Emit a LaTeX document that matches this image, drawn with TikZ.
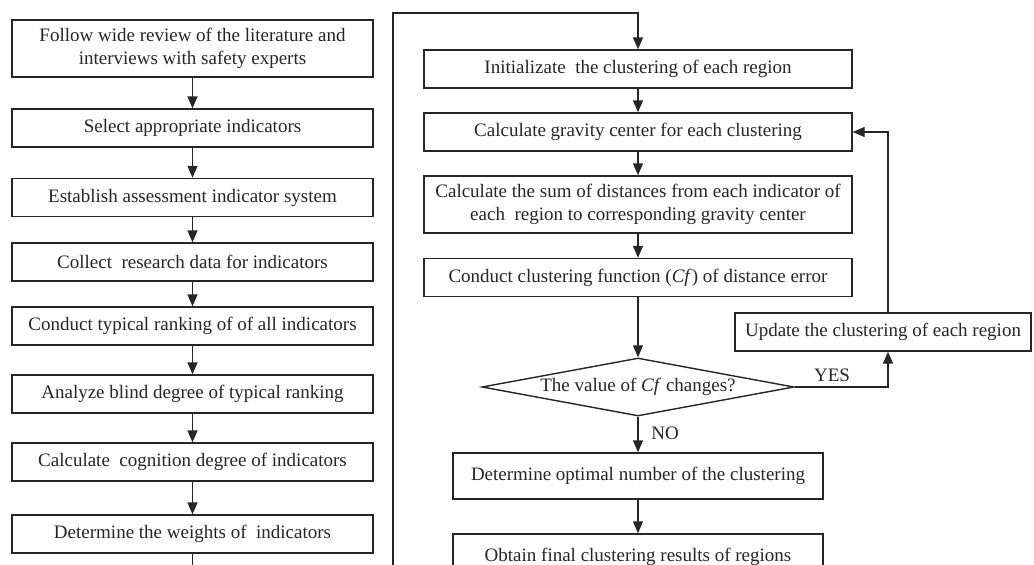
\documentclass[tikz,border=0pt]{standalone}
\usepackage{fontspec}
\setmainfont{Liberation Serif}
\usetikzlibrary{arrows.meta,shapes.geometric}
\definecolor{ink}{HTML}{262626}
\begin{document}
\begin{tikzpicture}[x=1pt,y=-1pt,
 box/.style={draw=ink,line width=1.4pt,rectangle,inner sep=0pt,align=center,text=ink,font=\fontsize{19}{23}\selectfont},
 lbox/.style={box,minimum width=361pt,minimum height=38pt},
 rbox/.style={box,minimum width=428pt,minimum height=38pt},
 arr/.style={draw=ink,line width=1.4pt,-{Triangle[width=10pt,length=12pt]}},
 ln/.style={draw=ink,line width=1.4pt},
 lbl/.style={text=ink,font=\fontsize{19}{22}\selectfont,inner sep=0pt}]
\useasboundingbox (0,0) rectangle (1034,565);
\fill[white] (0,0) rectangle (1034,565);
% left column
\node[lbox,minimum height=57pt] (l1) at (192.5,48.5) {Follow wide review of the literature and\\interviews with safety experts};
\node[lbox] (l2) at (192.5,128) {Select appropriate indicators};
\node[lbox] (l3) at (192.5,197.5) {Establish assessment indicator system};
\node[lbox] (l4) at (192.5,262) {Collect\ \ research data for indicators};
\node[lbox] (l5) at (192.5,326) {Conduct typical ranking of of all indicators};
\node[lbox] (l6) at (192.5,394) {Analyze blind degree of typical ranking};
\node[lbox] (l7) at (192.5,462) {Calculate\ \ cognition degree of indicators};
\node[lbox] (l8) at (192.5,534) {Determine the weights of\ \ indicators};
% right column
\node[rbox] (r1) at (638,69) {Initializate\ \ the clustering of each region};
\node[rbox] (r2) at (638,132) {Calculate gravity center for each clustering};
\node[rbox,minimum height=57pt] (r3) at (638,204.5) {Calculate the sum of distances from each indicator of\\each\ \ region to corresponding gravity center};
\node[rbox] (r4) at (638,277.5) {Conduct clustering function (\textit{Cf}) of distance error};
\node[diamond,draw=ink,line width=1.4pt,inner sep=0pt,aspect=5.4,minimum width=312pt,minimum height=58pt,text=ink,font=\fontsize{19}{22}\selectfont] (d) at (638,387) {The value of \textit{Cf} changes?};
\node[box,minimum width=296pt,minimum height=38pt] (up) at (883,332) {Update the clustering of each region};
\node[box,minimum width=370pt,minimum height=46pt] (r5) at (638,476) {Determine optimal number of the clustering};
\node[box,minimum width=370pt,minimum height=46pt] (r6) at (638,557) {Obtain final clustering results of regions};
% labels
\node[lbl] (yes) at (832,375) {YES};
\node[lbl] (no) at (665,433) {NO};
% helper coordinates
\coordinate (lend) at (192.5,575);
\coordinate (b1) at (393,575);
\coordinate (t1) at (393,13);
\coordinate (fx) at (888,0);
% left arrows
\foreach \a/\b in {l1/l2,l2/l3,l3/l4,l4/l5,l5/l6,l6/l7,l7/l8}
  \draw[arr] (\a) -- (\b);
\draw[ln] (l8) -- (lend);
\draw[arr] (b1) -- (t1) -| (r1.north);
% right arrows
\foreach \a/\b in {r1/r2,r2/r3,r3/r4,r4/d,d/r5,r5/r6}
  \draw[arr] (\a) -- (\b);
\draw[arr] (d.east) -| (fx |- up.south);
\draw[arr] (fx |- up.north) |- (r2.east);
\end{tikzpicture}
\end{document}
